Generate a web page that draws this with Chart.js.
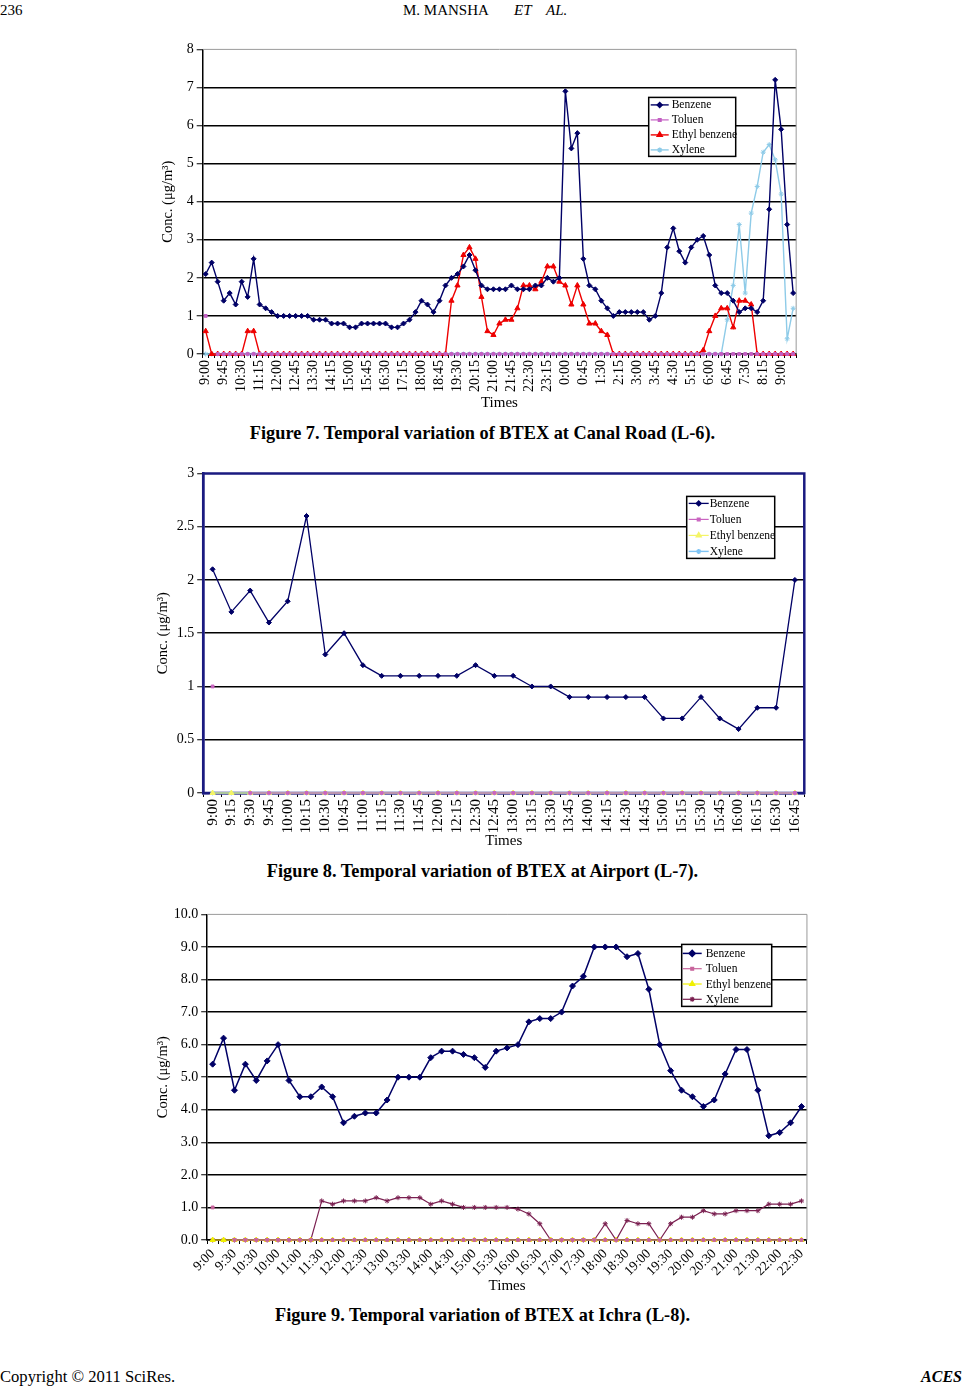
<!doctype html>
<html>

<head>
  <meta charset="UTF-8">
  <script src="https://cdn.jsdelivr.net/npm/chart.js"></script>
  <style>
    body { margin: 0; background: #fff; }
    #page { position: relative; width: 965px; height: 1386px; font-family: 'Liberation Serif', 'Times New Roman', serif; color: #000; }
    #page canvas { position: absolute; }
    .txt { position: absolute; white-space: nowrap; font-size: 15px; line-height: 18px; }
    .cap { position: absolute; left: 0; width: 965px; text-align: center; font-weight: bold; font-size: 18.3px; line-height: 20px; }
  </style>
</head>

<body>
  <div id="page">
    <div class="txt" style="left:0;top:1px">236</div>
    <div class="txt" style="left:403px;top:1px">M. MANSHA</div>
    <div class="txt" style="left:514px;top:1px"><i>ET</i></div>
    <div class="txt" style="left:546px;top:1px"><i>AL.</i></div>

    <canvas id="canalChart" width="657" height="374" style="left:155px;top:38px"></canvas>
    <div class="cap" style="top:423px">Figure 7. Temporal variation of BTEX at Canal Road (L-6).</div>

    <canvas id="airportChart" width="665" height="388" style="left:150px;top:462px"></canvas>
    <div class="cap" style="top:861px">Figure 8. Temporal variation of BTEX at Airport (L-7).</div>

    <canvas id="ichraChart" width="665" height="392" style="left:150px;top:903px"></canvas>
    <div class="cap" style="top:1305px">Figure 9. Temporal variation of BTEX at Ichra (L-8).</div>

    <div class="txt" style="left:0;top:1368px;font-size:16.6px">Copyright © 2011 SciRes.</div>
    <div class="txt" style="right:3px;top:1368px;font-size:16px"><b><i>ACES</i></b></div>
  </div>

<script>
  // ---- Figure 7: Canal Road (L-6), 15 min readings 9:00 -> 9:30 next day
  const canalTicks = ['9:00','9:45','10:30','11:15','12:00','12:45','13:30','14:15','15:00','15:45','16:30',
    '17:15','18:00','18:45','19:30','20:15','21:00','21:45','22:30','23:15','0:00','0:45','1:30','2:15',
    '3:00','3:45','4:30','5:15','6:00','6:45','7:30','8:15','9:00'];
  const canalBenzene = [2.1,2.4,1.9,1.4,1.6,1.3,1.9,1.5,2.5,1.3,
    1.2,1.1,1.0,1.0,1.0,1.0,1.0,1.0,0.9,0.9,
    0.9,0.8,0.8,0.8,0.7,0.7,0.8,0.8,0.8,0.8,
    0.8,0.7,0.7,0.8,0.9,1.1,1.4,1.3,1.1,1.4,
    1.8,2.0,2.1,2.3,2.6,2.2,1.8,1.7,1.7,1.7,
    1.7,1.8,1.7,1.7,1.7,1.8,1.8,2.0,1.9,2.0,
    6.9,5.4,5.8,2.5,1.8,1.7,1.4,1.2,1.0,1.1,
    1.1,1.1,1.1,1.1,0.9,1.0,1.6,2.8,3.3,2.7,
    2.4,2.8,3.0,3.1,2.6,1.8,1.6,1.6,1.4,1.1,
    1.2,1.2,1.1,1.4,3.8,7.2,5.9,3.4,1.6];
  // second reading is blank in the original sheet (no line from the first mark)
  const canalToluen = [1,null,0,0,0,0,0,0,0,0, 0,0,0,0,0,0,0,0,0,0, 0,0,0,0,0,0,0,0,0,0,
    0,0,0,0,0,0,0,0,0,0, 0,0,0,0,0,0,0,0,0,0, 0,0,0,0,0,0,0,0,0,0, 0,0,0,0,0,0,0,0,0,0,
    0,0,0,0,0,0,0,0,0,0, 0,0,0,0,0,0,0,0,0,0, 0,0,0,0,0,0,0,0,0];
  const canalEthyl = [0.6,0,0,0,0,0,0,0.6,0.6,0,
    0,0,0,0,0,0,0,0,0,0,
    0,0,0,0,0,0,0,0,0,0,
    0,0,0,0,0,0,0,0,0,0,
    0,1.4,1.8,2.6,2.8,2.5,1.5,0.6,0.5,0.8,
    0.9,0.9,1.2,1.8,1.8,1.7,1.9,2.3,2.3,1.9,
    1.8,1.3,1.8,1.3,0.8,0.8,0.6,0.5,0,0,
    0,0,0,0,0,0,0,0,0,0,
    0,0,0,0.1,0.6,1.0,1.2,1.2,0.7,1.4,
    1.4,1.3,0,0,0,0,0,0,0];
  const canalXylene = [0,0,0,0,0,0,0,0,0,0, 0,0,0,0,0,0,0,0,0,0, 0,0,0,0,0,0,0,0,0,0,
    0,0,0,0,0,0,0,0,0,0, 0,0,0,0,0,0,0,0,0,0, 0,0,0,0,0,0,0,0,0,0, 0,0,0,0,0,0,0,0,0,0,
    0,0,0,0,0,0,0,0,0,0, 0,0,0,0,0,0,0,0.9,1.8,3.4,
    1.6,3.7,4.4,5.3,5.5,5.1,4.2,0.4,1.2];

  // ---- Figure 8: Airport (L-7), 9:00 -> 16:45
  const airportTicks = ['9:00','9:15','9:30','9:45','10:00','10:15','10:30','10:45','11:00','11:15','11:30',
    '11:45','12:00','12:15','12:30','12:45','13:00','13:15','13:30','13:45','14:00','14:15','14:30','14:45',
    '15:00','15:15','15:30','15:45','16:00','16:15','16:30','16:45'];
  const airportBenzene = [2.1,1.7,1.9,1.6,1.8,2.6,1.3,1.5,1.2,1.1,1.1,1.1,1.1,1.1,1.2,1.1,
    1.1,1.0,1.0,0.9,0.9,0.9,0.9,0.9,0.7,0.7,0.9,0.7,0.6,0.8,0.8,2.0];
  const airportToluen = [1,null,0,0,0,0,0,0,0,0,0,0,0,0,0,0, 0,0,0,0,0,0,0,0,0,0,0,0,0,0,0,0];
  const airportEthyl = [0,0,0,0,0,0,0,0,0,0,0,0,0,0,0,0, 0,0,0,0,0,0,0,0,0,0,0,0,0,0,0,0];
  const airportXylene = [0,0,0,0,0,0,0,0,0,0,0,0,0,0,0,0, 0,0,0,0,0,0,0,0,0,0,0,0,0,0,0,0];

  // ---- Figure 9: Ichra (L-8), 9:00 -> 22:30 (tick labels as printed)
  const ichraTicks = ['9:00','9:30','10:30','10:00','11:00','11:30','12:00','12:30','13:00','13:30','14:00',
    '14:30','15:00','15:30','16:00','16:30','17:00','17:30','18:00','18:30','19:00','19:30','20:00','20:30',
    '21:00','21:30','22:00','22:30'];
  const ichraBenzene = [5.4,6.2,4.6,5.4,4.9,5.5,6.0,4.9,4.4,4.4,
    4.7,4.4,3.6,3.8,3.9,3.9,4.3,5.0,5.0,5.0,
    5.6,5.8,5.8,5.7,5.6,5.3,5.8,5.9,6.0,6.7,
    6.8,6.8,7.0,7.8,8.1,9.0,9.0,9.0,8.7,8.8,
    7.7,6.0,5.2,4.6,4.4,4.1,4.3,5.1,5.85,5.85,
    4.6,3.2,3.3,3.6,4.1];
  const ichraToluen = [1,null,0,0,0,0,0,0,0,0, 0,0,0,0,0,0,0,0,0,0, 0,0,0,0,0,0,0,0,0,0,
    0,0,0,0,0,0,0,0,0,0, 0,0,0,0,0,0,0,0,0,0, 0,0,0,0,0];
  const ichraEthyl = [0,0,0,0,0,0,0,0,0,0, 0,0,0,0,0,0,0,0,0,0, 0,0,0,0,0,0,0,0,0,0,
    0,0,0,0,0,0,0,0,0,0, 0,0,0,0,0,0,0,0,0,0, 0,0,0,0,0];
  const ichraXylene = [0,0,0,0,0,0,0,0,0,0,
    1.2,1.1,1.2,1.2,1.2,1.3,1.2,1.3,1.3,1.3,
    1.1,1.2,1.1,1.0,1.0,1.0,1.0,1.0,0.95,0.8,
    0.5,0,0,0,0,0,0.5,0,0.6,0.5,
    0.5,0,0.5,0.7,0.7,0.9,0.8,0.8,0.9,0.9,
    0.9,1.1,1.1,1.1,1.2];

  // category names for every 15 min reading
  function quarterHours(startHour, n) {
    const out = [];
    for (let i = 0; i < n; i++) {
      const m = startHour * 60 + i * 15;
      out.push((Math.floor(m / 60) % 24) + ':' + String(m % 60).padStart(2, '0'));
    }
    return out;
  }

  Chart.defaults.font.family = "'Liberation Serif', 'Times New Roman', serif";
  Chart.defaults.color = '#000';

  // grey/blue frame around the plot area (drawn under the lines)
  const plotFrame = {
    id: 'plotFrame',
    beforeDatasetsDraw(chart, args, opts) {
      const { ctx, chartArea: a } = chart;
      ctx.save();
      ctx.strokeStyle = opts.color;
      ctx.lineWidth = opts.width;
      ctx.beginPath();
      if (opts.all) {
        ctx.rect(a.left, a.top, a.right - a.left, a.bottom - a.top);
      } else {
        ctx.moveTo(a.left, a.top);
        ctx.lineTo(a.right, a.top);
        ctx.lineTo(a.right, a.bottom);
      }
      ctx.stroke();
      ctx.restore();
    }
  };

  // boxed legend sitting inside the plot, like the Excel original
  const boxLegend = {
    id: 'boxLegend',
    afterDatasetsDraw(chart, args, o) {
      const { ctx, chartArea: a } = chart;
      const x = a.left + o.dx, y = a.top + o.dy;
      ctx.save();
      ctx.fillStyle = '#fff';
      ctx.fillRect(x, y, o.w, o.h);
      ctx.strokeStyle = '#000';
      ctx.lineWidth = 1.5;
      ctx.strokeRect(x, y, o.w, o.h);
      ctx.font = o.font;
      ctx.textBaseline = 'middle';
      chart.data.datasets.forEach((ds, i) => {
        const cy = y + o.first + o.row * i;
        ctx.strokeStyle = ds.borderColor;
        ctx.lineWidth = ds.borderWidth;
        ctx.beginPath();
        ctx.moveTo(x + o.lineX, cy);
        ctx.lineTo(x + o.lineX + o.lineLen, cy);
        ctx.stroke();
        ctx.fillStyle = ds.pointBackgroundColor;
        Chart.helpers.drawPoint(ctx, { pointStyle: ds.pointStyle, radius: ds.pointRadius, borderWidth: 1, rotation: 0 },
          x + o.lineX + o.lineLen / 2, cy);
        ctx.fillStyle = '#000';
        ctx.fillText(ds.label, x + o.textX, cy + 0.5);
      });
      ctx.restore();
    }
  };

  function series(label, data, color, style, radius, width) {
    return {
      label: label, data: data,
      borderColor: color, backgroundColor: color,
      pointBackgroundColor: color, pointBorderColor: color,
      pointStyle: style, pointRadius: radius, pointBorderWidth: 1,
      borderWidth: width, tension: 0, clip: false, spanGaps: false
    };
  }

  function options(o) {
    return {
      responsive: false, animation: false, events: [],
      layout: { padding: { top: o.padTop, right: o.padRight, left: 0, bottom: 0 } },
      plugins: {
        legend: { display: false }, tooltip: { enabled: false },
        plotFrame: o.frame, boxLegend: o.legend
      },
      scales: {
        x: {
          type: 'category', offset: true,
          grid: { display: true, drawOnChartArea: false, offset: true, color: '#000', tickLength: 4, lineWidth: 1 },
          border: { color: o.axisColor, width: o.axisWidth },
          ticks: {
            autoSkip: false, maxRotation: o.rot, minRotation: o.rot, padding: 2,
            font: { size: o.xFont },
            callback: (v, i) => (i % o.every === 0 && o.ticks[i / o.every] !== undefined) ? o.ticks[i / o.every] : ''
          },
          title: { display: true, text: 'Times', font: { size: 15 }, padding: { top: 0, bottom: 0 } },
          afterFit: s => { s.height = o.xH; }
        },
        y: {
          min: 0, max: o.max,
          ticks: { stepSize: o.step, font: { size: o.yFont }, padding: 3, callback: o.fmt },
          grid: {
            color: c => (c.tick && c.tick.value === o.max) ? 'rgba(0,0,0,0)' : '#000',
            lineWidth: o.gridW, tickLength: 6, tickColor: '#000', tickWidth: 1
          },
          border: { color: o.axisColor, width: o.axisWidth },
          title: { display: true, text: 'Conc. (μg/m³)', font: { size: 14.5 }, padding: { top: 4, bottom: 4 } },
          afterFit: s => { s.width = o.yW; }
        }
      }
    };
  }

  // Figure 7
  new Chart(document.getElementById('canalChart'), {
    type: 'line',
    data: {
      labels: quarterHours(9, canalBenzene.length),
      datasets: [
        series('Benzene', canalBenzene, '#000066', 'rectRot', 2.5, 1.4),
        series('Toluen', canalToluen, '#c35fc3', 'rect', 2, 1.2),
        series('Ethyl benzene', canalEthyl, '#ee0000', 'triangle', 3, 1.4),
        series('Xylene', canalXylene, '#8ecbe8', 'star', 2.5, 1.4)
      ]
    },
    options: options({
      padTop: 9, padRight: 8, yW: 47.7, xH: 58, max: 8, step: 1, fmt: v => v,
      rot: 90, every: 3, ticks: canalTicks, xFont: 14, yFont: 14, gridW: 1.5,
      axisColor: '#000', axisWidth: 1.5,
      frame: { color: '#9a9a9a', width: 1, all: false },
      legend: { dx: 446, dy: 48, w: 87, h: 59, first: 7.5, row: 15, lineX: 2, lineLen: 18, textX: 23, font: "11.5px 'Liberation Serif', serif" }
    }),
    plugins: [plotFrame, boxLegend]
  });

  // Figure 8
  new Chart(document.getElementById('airportChart'), {
    type: 'line',
    data: {
      labels: quarterHours(9, airportBenzene.length),
      datasets: [
        series('Benzene', airportBenzene, '#000066', 'rectRot', 2.5, 1.3),
        series('Toluen', airportToluen, '#c964c0', 'rect', 2, 1.2),
        series('Ethyl benzene', airportEthyl, '#f4f466', 'triangle', 3, 1.2),
        series('Xylene', airportXylene, '#7fc4f4', 'star', 2.5, 1.4)
      ]
    },
    options: options({
      padTop: 10, padRight: 6.3, yW: 53.2, xH: 57, max: 3, step: 0.5, fmt: v => v,
      rot: 90, every: 1, ticks: airportTicks, xFont: 15, yFont: 14, gridW: 1.5,
      axisColor: '#1a1a80', axisWidth: 2.5,
      frame: { color: '#1a1a80', width: 2.5, all: true },
      legend: { dx: 483.5, dy: 23, w: 88, h: 62, first: 7, row: 16, lineX: 2, lineLen: 20, textX: 23, font: "11.5px 'Liberation Serif', serif" }
    }),
    plugins: [plotFrame, boxLegend]
  });

  // Figure 9
  new Chart(document.getElementById('ichraChart'), {
    type: 'line',
    data: {
      labels: quarterHours(9, ichraBenzene.length),
      datasets: [
        series('Benzene', ichraBenzene, '#000066', 'rectRot', 3, 1.5),
        series('Toluen', ichraToluen, '#c8649c', 'rect', 2, 1.2),
        series('Ethyl benzene', ichraEthyl, '#f0f000', 'triangle', 3, 1.2),
        series('Xylene', ichraXylene, '#7a1f50', 'star', 2.5, 1.2)
      ]
    },
    options: options({
      padTop: 10, padRight: 5.5, yW: 57.2, xH: 55, max: 10, step: 1, fmt: v => v.toFixed(1),
      rot: 45, every: 2, ticks: ichraTicks, xFont: 13.5, yFont: 14, gridW: 1.5,
      axisColor: '#000', axisWidth: 1.5,
      frame: { color: '#9a9a9a', width: 1, all: false },
      legend: { dx: 474.5, dy: 30, w: 90, h: 62, first: 9, row: 15.3, lineX: 1, lineLen: 19, textX: 24, font: "11.5px 'Liberation Serif', serif" }
    }),
    plugins: [plotFrame, boxLegend]
  });
</script>

</body>

</html>
